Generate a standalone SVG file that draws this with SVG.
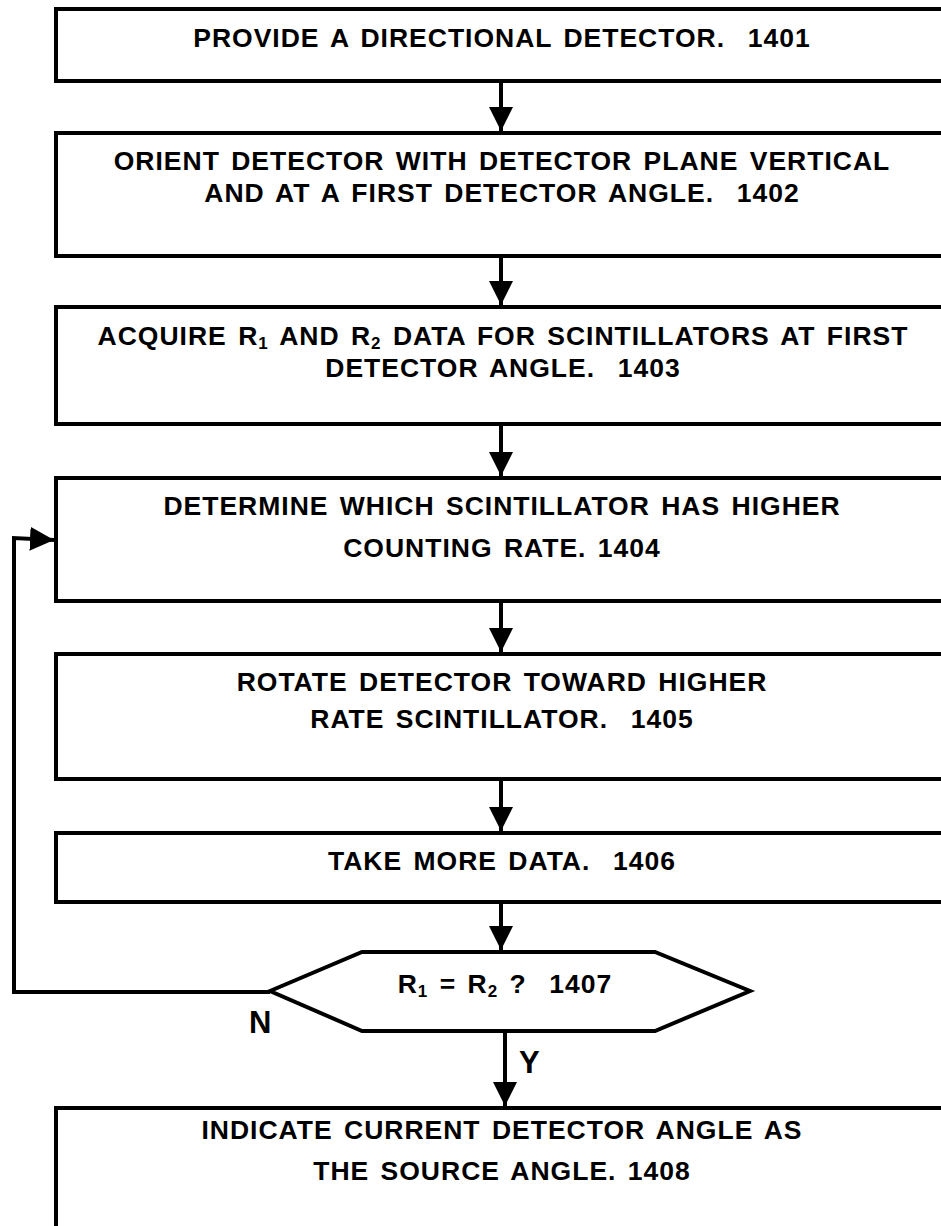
<svg xmlns="http://www.w3.org/2000/svg" width="941" height="1226" viewBox="0 0 941 1226">
<style>
.box{fill:#fff;stroke:#000;stroke-width:4}
.t{font-family:"Liberation Sans",Arial,sans-serif;font-weight:bold;font-size:26.5px;fill:#000;text-anchor:middle;white-space:pre;word-spacing:3px;letter-spacing:1px}
.lbl{font-family:"Liberation Sans",Arial,sans-serif;font-weight:bold;font-size:31px;fill:#000}
.c{fill:none;stroke:#000;stroke-width:4}
.sub{font-size:17px}
</style>
<defs>
<marker id="ah" markerUnits="userSpaceOnUse" markerWidth="24" markerHeight="24" refX="24" refY="12" orient="auto" viewBox="0 0 24 24">
<path d="M0,0 L24,12 L0,24 z" fill="#000"/>
</marker>
</defs>
<rect width="941" height="1226" fill="#fff"/>
<g id="n1401"><rect class="box" x="56" y="9" width="910" height="72"/>
<text class="t" x="502" y="47">PROVIDE A DIRECTIONAL DETECTOR.  1401</text></g>
<g id="n1402"><rect class="box" x="56" y="133" width="910" height="123"/>
<text class="t" x="502" y="170">ORIENT DETECTOR WITH DETECTOR PLANE VERTICAL</text>
<text class="t" x="502" y="202">AND AT A FIRST DETECTOR ANGLE.  1402</text></g>
<g id="n1403"><rect class="box" x="56" y="307" width="910" height="117"/>
<text class="t" x="503" y="345">ACQUIRE R<tspan class="sub" dy="4">1</tspan><tspan dy="-4"> AND R</tspan><tspan class="sub" dy="4">2</tspan><tspan dy="-4"> DATA FOR SCINTILLATORS AT FIRST</tspan></text>
<text class="t" x="503" y="377">DETECTOR ANGLE.  1403</text></g>
<g id="n1404"><rect class="box" x="56" y="478" width="910" height="123"/>
<text class="t" x="502" y="515">DETERMINE WHICH SCINTILLATOR HAS HIGHER</text>
<text class="t" x="502" y="557">COUNTING RATE. 1404</text></g>
<g id="n1405"><rect class="box" x="56" y="654" width="910" height="125"/>
<text class="t" x="502" y="691">ROTATE DETECTOR TOWARD HIGHER</text>
<text class="t" x="502" y="728">RATE SCINTILLATOR.  1405</text></g>
<g id="n1406"><rect class="box" x="56" y="833" width="910" height="69"/>
<text class="t" x="502" y="870">TAKE MORE DATA.  1406</text></g>
<g id="n1407"><polygon class="box" points="270,991 362,952 655,952 750,991 655,1031 362,1031"/>
<text class="t" x="505" y="993">R<tspan class="sub" dy="4">1</tspan><tspan dy="-4"> = R</tspan><tspan class="sub" dy="4">2</tspan><tspan dy="-4"> ?  1407</tspan></text></g>
<g id="n1408"><rect class="box" x="56" y="1108" width="910" height="140"/>
<text class="t" x="502" y="1139">INDICATE CURRENT DETECTOR ANGLE AS</text>
<text class="t" x="502" y="1180">THE SOURCE ANGLE. 1408</text></g>
<g id="connectors">
<line class="c" x1="501" y1="81" x2="501" y2="131" marker-end="url(#ah)"/>
<line class="c" x1="501" y1="256" x2="501" y2="305" marker-end="url(#ah)"/>
<line class="c" x1="501" y1="424" x2="501" y2="476" marker-end="url(#ah)"/>
<line class="c" x1="501" y1="601" x2="501" y2="652" marker-end="url(#ah)"/>
<line class="c" x1="501" y1="779" x2="501" y2="831" marker-end="url(#ah)"/>
<line class="c" x1="501" y1="902" x2="501" y2="950" marker-end="url(#ah)"/>
<line class="c" x1="505" y1="1031" x2="505" y2="1106" marker-end="url(#ah)"/>
<path class="c" d="M270,992 H14 V538 L54,540" marker-end="url(#ah)"/>
<text class="lbl" x="249" y="1033">N</text>
<text class="lbl" x="519" y="1073">Y</text>
</g>
</svg>
